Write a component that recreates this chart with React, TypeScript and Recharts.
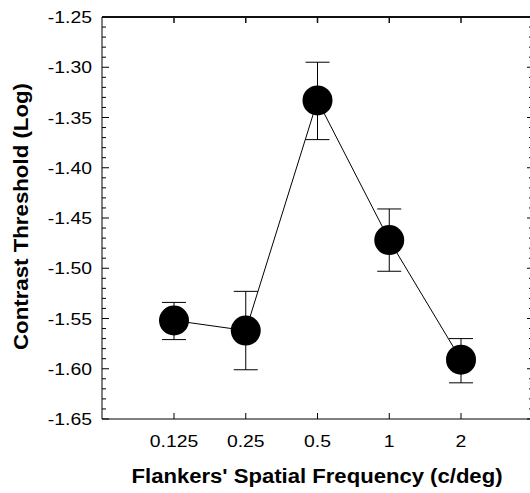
import React from 'react';
import { LineChart, Line, XAxis, YAxis, ErrorBar, Label } from 'recharts';

// values
const frequencies = ['0.125', '0.25', '0.5', '1', '2'];
const thresholds = [-1.552, -1.562, -1.333, -1.472, -1.591];
const errorUp = [0.018, 0.039, 0.038, 0.031, 0.021];
const errorDown = [0.019, 0.039, 0.039, 0.031, 0.023];
const majorTicks = [-1.65, -1.6, -1.55, -1.5, -1.45, -1.4, -1.35, -1.3, -1.25];

const Y_MIN = -1.65;
const Y_MAX = -1.25;

const yTicks: number[] = [];
majorTicks.forEach((t, i) => {
  yTicks.push(t);
  if (i < majorTicks.length - 1) {
    for (let k = 1; k < 5; k++) yTicks.push(Math.round((t + k * 0.01) * 100) / 100);
  }
});

const data = frequencies.map((f, i) => ({
  freq: f,
  value: thresholds[i],
  err: [errorDown[i], errorUp[i]],
}));

const CHART_W = 533;
const CHART_H = 493;
const MARGIN = { top: 17, right: 0, bottom: 0, left: 0 };
const PLOT_TOP = MARGIN.top;
const PLOT_RIGHT = CHART_W - MARGIN.right;

const FONT = '"Liberation Sans", Arial, Helvetica, sans-serif';
const STRETCH = 1.14;
const LEFT_GAP = 10;

const isMajor = (v: number) => Math.abs(Math.round(v * 100)) % 5 === 0;

// left ticks + labels; also the mirrored right ticks and the top frame line
const LeftTick = (props: any) => {
  const { x, y, payload } = props;
  const v = payload.value as number;
  const major = isMajor(v);
  const ax = x + LEFT_GAP;
  return (
    <g>
      <line x1={ax} x2={ax + (major ? 7 : 4)} y1={y} y2={y} stroke="#000" strokeWidth={1} />
      <line x1={PLOT_RIGHT} x2={PLOT_RIGHT - (major ? 6 : 4)} y1={y} y2={y} stroke="#000" strokeWidth={1} />
      {Math.abs(v - Y_MAX) < 1e-6 && (
        <line x1={ax} x2={PLOT_RIGHT} y1={y} y2={y} stroke="#111" strokeWidth={2} />
      )}
      {major && (
        <text
          transform={`translate(${x},${y + 6}) scale(${STRETCH},1)`}
          textAnchor="end"
          fontFamily={FONT}
          fontSize={17}
          fill="#000"
        >
          {v.toFixed(2)}
        </text>
      )}
    </g>
  );
};

// bottom ticks + labels; also the top ticks
const BottomTick = (props: any) => {
  const { x, y, payload } = props;
  return (
    <g>
      <line x1={x} x2={x} y1={y} y2={y - 6} stroke="#000" strokeWidth={1} />
      <line x1={x} x2={x} y1={PLOT_TOP} y2={PLOT_TOP + 6} stroke="#111" strokeWidth={1.5} />
      <text
        transform={`translate(${x},${y + 28}) scale(${STRETCH},1)`}
        textAnchor="middle"
        fontFamily={FONT}
        fontSize={17}
        fill="#000"
      >
        {payload.value}
      </text>
    </g>
  );
};

const YTitle = () => (
  <text
    transform="translate(27.5,216.5) rotate(-90)"
    textAnchor="middle"
    fontFamily={FONT}
    fontWeight="bold"
    fontSize={20}
    textLength={267}
    lengthAdjust="spacingAndGlyphs"
    fill="#000"
  >
    Contrast Threshold (Log)
  </text>
);

const XTitle = () => (
  <text
    x={317}
    y={483}
    textAnchor="middle"
    fontFamily={FONT}
    fontWeight="bold"
    fontSize={20}
    textLength={371}
    lengthAdjust="spacingAndGlyphs"
    fill="#000"
  >
    Flankers' Spatial Frequency (c/deg)
  </text>
);

export default function App() {
  return (
    <div
      style={{
        position: 'absolute',
        left: 0,
        top: 0,
        width: 530,
        height: 493,
        overflow: 'hidden',
        background: '#fff',
      }}
    >
      <LineChart width={CHART_W} height={CHART_H} data={data} margin={MARGIN}>
        <XAxis
          dataKey="freq"
          height={74}
          padding={{ left: 72, right: 72 }}
          interval={0}
          tickSize={0}
          tickMargin={0}
          tickLine={false}
          tick={<BottomTick />}
          axisLine={{ stroke: '#000', strokeWidth: 1 }}
        >
          <Label content={<XTitle />} />
        </XAxis>
        <YAxis
          type="number"
          domain={[Y_MIN, Y_MAX]}
          ticks={yTicks}
          interval={0}
          allowDataOverflow
          width={102}
          tickSize={0}
          tickMargin={LEFT_GAP}
          tickLine={false}
          tick={<LeftTick />}
          axisLine={{ stroke: '#000', strokeWidth: 1 }}
        >
          <Label content={<YTitle />} />
        </YAxis>
        <Line
          dataKey="value"
          stroke="#000"
          strokeWidth={1}
          dot={{ r: 15, fill: '#000', stroke: '#000', strokeWidth: 0 }}
          activeDot={false}
          isAnimationActive={false}
        >
          <ErrorBar dataKey="err" width={12} stroke="#000" strokeWidth={1} direction="y" />
        </Line>
      </LineChart>
    </div>
  );
}
